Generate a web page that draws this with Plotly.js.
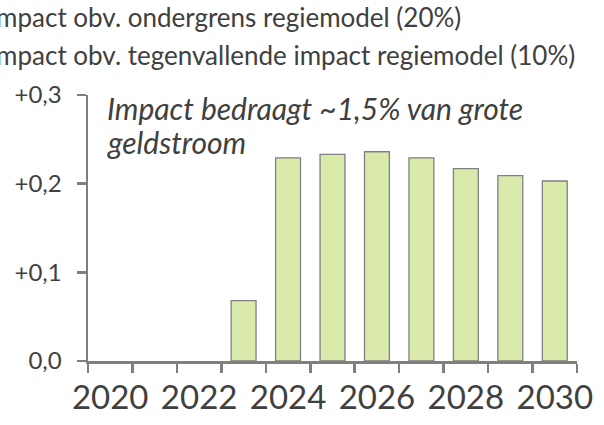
<!DOCTYPE html>
<html>
<head>
<meta charset="utf-8">
<script src="https://cdn.plot.ly/plotly-3.0.1.min.js"></script>
<style>
  html, body { margin: 0; padding: 0; background: #ffffff; }
  #chart { width: 604px; height: 425px; }
</style>
</head>
<body>
<div id="chart"></div>
<script>
const years = [2020, 2021, 2022, 2023, 2024, 2025, 2026, 2027, 2028, 2029, 2030];
const impact = [null, null, null, 0.068, 0.229, 0.233, 0.236, 0.229, 0.217, 0.209, 0.203];
const xTickVals = [2020, 2022, 2024, 2026, 2028, 2030];
const xTickText = ['2020', '2022', '2024', '2026', '2028', '2030'];
const yTickVals = [0, 0.1, 0.2, 0.3];
const yTickText = ['0,0', '+0,1', '+0,2', '+0,3'];
const legendLabels = [
  'Impact obv. ondergrens regiemodel (20%)',
  'Impact obv. tegenvallende impact regiemodel (10%)'
];
const noteLines = ['Impact bedraagt ~1,5% van grote', 'geldstroom'];

const boundaries = years.map(y => y - 0.5).concat([years[years.length - 1] + 0.5]);

const axisColor = '#7f7f7f';
const textColor = '#404040';
const font = 'Lato, "Open Sans", sans-serif';

const trace = {
  type: 'bar',
  x: years,
  y: impact,
  marker: { color: '#d9eaab', line: { color: '#808080', width: 1.3 } },
  width: 0.56,
  hoverinfo: 'x+y'
};

const noteY = [0.95, 0.825];

const layout = {
  width: 604,
  height: 425,
  margin: { l: 88, r: 27, t: 95, b: 64 },
  paper_bgcolor: '#ffffff',
  plot_bgcolor: '#ffffff',
  showlegend: false,
  font: { family: font, color: textColor },
  xaxis: {
    range: [2019.5, 2030.5],
    tickmode: 'array',
    tickvals: xTickVals,
    ticktext: xTickText,
    ticks: '',
    showgrid: false,
    zeroline: false,
    showline: true,
    linecolor: axisColor,
    linewidth: 2.5,
    tickfont: { size: 33, color: textColor, family: font },
    ticklabelstandoff: 6,
    minor: {
      tickmode: 'array',
      tickvals: boundaries,
      ticks: 'outside',
      ticklen: 9,
      tickwidth: 2.5,
      tickcolor: axisColor,
      showgrid: false
    },
    fixedrange: true
  },
  yaxis: {
    range: [0, 0.3],
    tickmode: 'array',
    tickvals: yTickVals,
    ticktext: yTickText,
    ticks: 'outside',
    ticklen: 9,
    tickwidth: 2.5,
    tickcolor: axisColor,
    showgrid: false,
    zeroline: false,
    showline: true,
    linecolor: axisColor,
    linewidth: 2.5,
    tickfont: { size: 24, color: textColor, family: font },
    ticklabelstandoff: 10,
    fixedrange: true
  },
  annotations: [
    {
      xref: 'paper', yref: 'paper', x: 0.767, y: 1.295,
      xanchor: 'right', yanchor: 'middle', showarrow: false,
      text: legendLabels[0], font: { size: 26, color: textColor, family: font }
    },
    {
      xref: 'paper', yref: 'paper', x: 1.0, y: 1.152,
      xanchor: 'right', yanchor: 'middle', showarrow: false,
      text: legendLabels[1], font: { size: 26, color: textColor, family: font }
    }
  ].concat(noteLines.map((t, i) => ({
    xref: 'paper', yref: 'paper', x: 0.035, y: noteY[i],
    xanchor: 'left', yanchor: 'middle', showarrow: false, align: 'left',
    text: '<i>' + t + '</i>',
    font: { size: 30, color: textColor, family: font }
  })))
};

Plotly.newPlot('chart', [trace], layout, { displayModeBar: false, staticPlot: true });
</script>
</body>
</html>
